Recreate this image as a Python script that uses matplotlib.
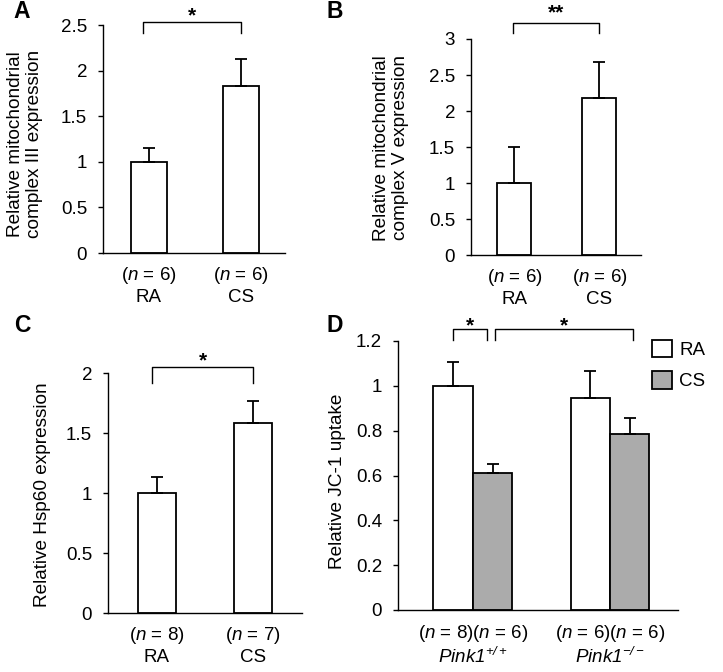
import matplotlib
matplotlib.use("Agg")
import matplotlib.pyplot as plt
from matplotlib.patches import Patch
from matplotlib.ticker import FuncFormatter

plt.rcParams.update({
    "font.family": "Liberation Sans",
    "mathtext.fontset": "custom",
    "mathtext.rm": "Liberation Sans",
    "mathtext.it": "Liberation Sans:italic",
    "mathtext.sf": "Liberation Sans:italic",
    "font.size": 13.5,
    "axes.linewidth": 1.0,
})

# ---- data ----
groups = ["RA", "CS"]

a_n = [6, 6]
a_mean = [1.0, 1.83]
a_err = [0.15, 0.30]

b_n = [6, 6]
b_mean = [1.0, 2.18]
b_err = [0.50, 0.50]

c_n = [8, 7]
c_mean = [1.0, 1.58]
c_err = [0.13, 0.19]

genotypes = [r"$\mathsf{Pink1}^{\mathsf{+/+}}$", r"$\mathsf{Pink1}^{\mathsf{-/-}}$"]
d_ra_n = [8, 6]
d_cs_n = [6, 6]
d_ra_mean = [1.0, 0.945]
d_ra_err = [0.105, 0.12]
d_cs_mean = [0.61, 0.785]
d_cs_err = [0.04, 0.07]

GRAY = "#ababab"
W, H = 723, 672
fig = plt.figure(figsize=(W / 100, H / 100), dpi=100)


def px_axes(left, right, top, bottom):
    return fig.add_axes([left / W, 1 - bottom / H, (right - left) / W, (bottom - top) / H])


def style(ax, ymax, step, xlim):
    for s in ("top", "right"):
        ax.spines[s].set_visible(False)
    ax.set_ylim(0, ymax)
    ax.set_xlim(*xlim)
    ax.set_yticks([i * step for i in range(int(round(ymax / step)) + 1)])
    ax.yaxis.set_major_formatter(FuncFormatter(lambda v, _: f"{v:g}"))
    ax.tick_params(axis="y", direction="out", length=3.5, width=1, pad=8)
    ax.tick_params(axis="x", length=0, pad=9)


def bars(ax, x, mean, err, color, width):
    ax.bar(x, mean, width, color=color, edgecolor="black", linewidth=1.3,
           yerr=[[0] * len(err), err], capsize=4,
           error_kw=dict(elinewidth=1.3, capthick=1.3, ecolor="black"))


def bracket(ax, x0, x1, ytop, ybot, star, dy):
    ax.plot([x0, x0, x1, x1], [ybot, ytop, ytop, ybot], color="black", lw=1.0, clip_on=False)
    ax.annotate(star, xy=((x0 + x1) / 2, ytop), xytext=(0, dy), textcoords="offset points",
                ha="center", va="baseline", fontsize=15, fontweight="bold",
                annotation_clip=False)


def nlabels(ns, names):
    return [f"($n$ = {n})\n{g}" for n, g in zip(ns, names)]


def ylabel(x, y, text):
    fig.text(x / W, 1 - y / H, text, rotation=90, ha="center", va="center",
             fontsize=13.7, multialignment="center")


def letter(x, y, text):
    fig.text(x / W, 1 - y / H, text, ha="left", va="top", fontsize=16.5, fontweight="bold")


pos = [0, 1]

# A
ax = px_axes(103, 285, 25, 253)
bars(ax, pos, a_mean, a_err, "white", 0.39)
style(ax, 2.5, 0.5, (-0.5, 1.48))
ax.set_xticks(pos, nlabels(a_n, groups))
bracket(ax, -0.06, 1, 2.53, 2.41, "*", 0.5)
ylabel(25, 144, "Relative mitochondrial\ncomplex III expression")
letter(13, 0, "A")

# B
ax = px_axes(471, 641, 39, 255)
bars(ax, pos, b_mean, b_err, "white", 0.4)
style(ax, 3, 0.5, (-0.51, 1.49))
ax.set_xticks(pos, nlabels(b_n, groups))
bracket(ax, -0.02, 1, 3.22, 3.08, "**", 3.5)
ylabel(391, 148, "Relative mitochondrial\ncomplex V expression")
letter(327, 0, "B")

# C
ax = px_axes(108, 302, 373, 613)
bars(ax, pos, c_mean, c_err, "white", 0.4)
style(ax, 2, 0.5, (-0.51, 1.51))
ax.set_xticks(pos, nlabels(c_n, groups))
bracket(ax, -0.05, 1, 2.05, 1.92, "*", 0.5)
ylabel(43, 495, "Relative Hsp60 expression")
letter(14, 314, "C")

# D
ax = px_axes(398, 678, 341, 610)
w = 0.288
ra_x = [p - w / 2 for p in pos]
cs_x = [p + w / 2 for p in pos]
bars(ax, ra_x, d_ra_mean, d_ra_err, "white", w)
bars(ax, cs_x, d_cs_mean, d_cs_err, GRAY, w)
style(ax, 1.2, 0.2, (-0.547, 1.496))
ax.set_xticks(pos, [f"($n$ = {a})($n$ = {b})\n{g}"
                    for a, b, g in zip(d_ra_n, d_cs_n, genotypes)])
bracket(ax, ra_x[0], cs_x[0] - 0.04, 1.254, 1.205, "*", -1.5)
bracket(ax, cs_x[0] + 0.02, cs_x[1] + 0.025, 1.254, 1.205, "*", -1.5)
ylabel(338, 481, "Relative JC-1 uptake")
letter(327, 314, "D")
ax.legend(handles=[Patch(facecolor="white", edgecolor="black", lw=1.3, label="RA"),
                   Patch(facecolor=GRAY, edgecolor="black", lw=1.3, label="CS")],
          loc="upper left", bbox_to_anchor=(652 / W, 1 - 340 / H),
          bbox_transform=fig.transFigure, frameon=False, borderpad=0,
          borderaxespad=0, handlelength=1.05, handleheight=1.05,
          handletextpad=0.4, labelspacing=0.65, fontsize=13.5)

fig.savefig("out.png", dpi=100)
